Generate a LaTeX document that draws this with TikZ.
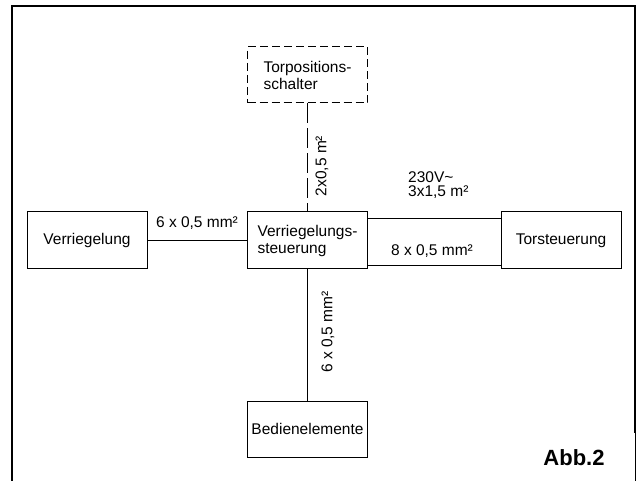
\documentclass[tikz,border=0pt]{standalone}
\usepackage{fontspec}
\setmainfont{Liberation Sans}
\begin{document}
\begin{tikzpicture}[x=1pt,y=-1pt,
  box/.style={draw,line width=1pt,rectangle,minimum width=120pt,minimum height=57pt,align=left,inner sep=0pt,font=\fontsize{15.5}{17}\selectfont},
  wire/.style={line width=0.9pt},
  lbl/.style={inner sep=0pt,font=\fontsize{15.5}{14}\selectfont}]
\useasboundingbox (0,0) rectangle (643,481);
% frame
\draw[line width=2.6pt] (12,481) -- (12,6) -- (635,6) -- (635,433);
\draw[line width=1pt] (635,433) -- (635,481);
% boxes
\node[box,dashed,dash pattern=on 8pt off 4pt,minimum height=56pt] (tp) at (307.5,75) {Torpositions-\\schalter};
\node[box] (vs) at (307.5,240.5) {Verriegelungs-\\steuerung};
\node[box] (vr) at (87,240.5) {Verriegelung};
\node[box] (ts) at (561,240.5) {Torsteuerung};
\node[box,minimum height=56pt] (be) at (307.5,429) {Bedienelemente};
% connectors
\draw[wire] (vr.east) -- (vs.west);
\draw[wire,dash pattern=on 20pt off 5pt] (tp.south) -- (vs.north);
\draw[wire] ([yshift=-7pt]vs.north east) -- ([yshift=-7pt]ts.north west);
\draw[wire] ([yshift=4pt]vs.south east) -- ([yshift=4pt]ts.south west);
\draw[wire] (vs.south) -- (be.north);
% labels
\node[lbl,anchor=base] (l1) at (197,228) {6 x 0,5 mm²};
\node[lbl,anchor=base west,align=left] (l2) at (408,197) {230V\textasciitilde\\3x1,5 m²};
\node[lbl,anchor=base] (l3) at (432,256) {8 x 0,5 mm²};
\node[lbl,rotate=90] (l4) at (322,166) {2x0,5 m²};
\node[lbl,rotate=90] (l5) at (328,332) {6 x 0,5 mm²};
\node[inner sep=0pt,anchor=base,font=\bfseries\fontsize{22}{24}\selectfont] (abb) at (574,465) {Abb.2};
\end{tikzpicture}
\end{document}
